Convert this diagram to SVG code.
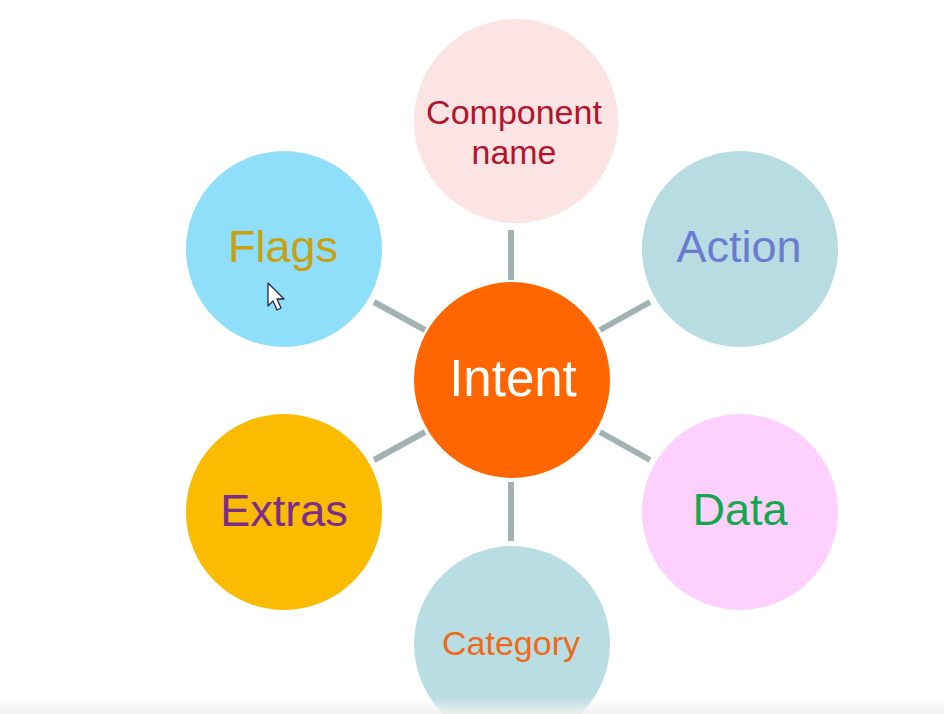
<svg xmlns="http://www.w3.org/2000/svg" width="944" height="714" viewBox="0 0 944 714">
<defs>
<style>
.lbl{font-family:"Liberation Sans",Arial,sans-serif;text-anchor:middle}
.conn line{stroke:#a2b2b2;stroke-width:6}
</style>
<linearGradient id="bot" x1="0" y1="0" x2="0" y2="1">
<stop offset="0" stop-color="#f2f2f2" stop-opacity="0"/>
<stop offset="1" stop-color="#f0f0f0" stop-opacity="0.9"/>
</linearGradient>
</defs>
<rect width="944" height="714" fill="#ffffff"/>
<g id="connectors" class="conn">
<line x1="511" y1="230" x2="511" y2="280"/>
<line x1="511" y1="482" x2="511" y2="541"/>
<line x1="374" y1="302" x2="425" y2="330"/>
<line x1="374" y1="460" x2="425" y2="432"/>
<line x1="600" y1="330" x2="650" y2="302"/>
<line x1="600" y1="432" x2="650" y2="460"/>
</g>
<g id="component-name">
<circle cx="516" cy="121" r="102" fill="#fce4e4"/>
<text class="lbl" x="514" y="124" font-size="34" fill="#b3142c">Component</text>
<text class="lbl" x="514" y="164" font-size="34" fill="#b3142c">name</text>
</g>
<g id="flags">
<circle cx="284" cy="249" r="98" fill="#8fdffb"/>
<text class="lbl" x="283" y="262" font-size="45" fill="#c9a010">Flags</text>
</g>
<g id="action">
<circle cx="740" cy="249" r="98" fill="#b7dde2"/>
<text class="lbl" x="739" y="262" font-size="45" fill="#6b7bd2">Action</text>
</g>
<g id="intent">
<circle cx="512" cy="380" r="98" fill="#ff6600"/>
<text class="lbl" x="513" y="396" font-size="51" fill="#ffffff">Intent</text>
</g>
<g id="extras">
<circle cx="284" cy="512" r="98" fill="#fbbb00"/>
<text class="lbl" x="284" y="526" font-size="45" fill="#7b2d8e">Extras</text>
</g>
<g id="data">
<circle cx="740" cy="512" r="98" fill="#fdd0fd"/>
<text class="lbl" x="740" y="525" font-size="45" fill="#14a84e">Data</text>
</g>
<g id="category">
<circle cx="512" cy="644" r="98" fill="#b8dde2"/>
<text class="lbl" x="511" y="655" font-size="34" fill="#ee6a1a">Category</text>
</g>
<rect x="0" y="696" width="944" height="18" fill="url(#bot)"/>
<polygon points="268,283 268,306 273,301 277,310 281,308 277,299 284,299" fill="#ffffff" stroke="#1f2a44" stroke-width="1.3" stroke-linejoin="round"/>
</svg>
